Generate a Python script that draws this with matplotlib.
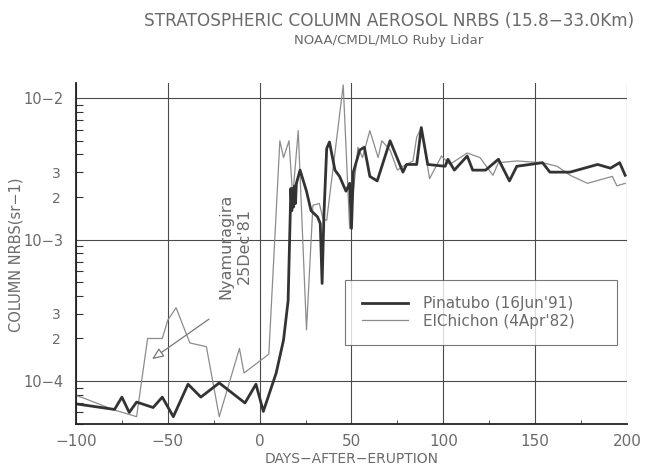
import numpy as np
import matplotlib
matplotlib.use("Agg")
import matplotlib.pyplot as plt
from matplotlib.ticker import FixedLocator, FixedFormatter

# Pinatubo (16 Jun 1991), column NRBS in sr-1
pin_days = [-100, -79, -75, -71, -67, -64, -58, -53, -47, -39, -32, -22, -8, -2, 2,
            9, 13, 15.5, 17, 17.5, 18, 18.5, 19, 19.5, 20, 22, 25.5, 28, 31.5, 33,
            34, 35, 36.5, 38, 41, 43.5, 47, 49, 50, 51, 54.5, 57, 60, 64, 71, 78,
            80, 85.5, 88, 91.5, 101, 102.5, 106, 113, 116, 123, 130, 136, 140,
            154, 158, 169, 184, 191, 196, 199]
pin_vals = [6.9e-5, 6.3e-5, 7.7e-5, 6.0e-5, 7.1e-5, 6.9e-5, 6.5e-5, 7.7e-5, 5.6e-5,
            9.5e-5, 7.7e-5, 9.7e-5, 7.0e-5, 9.5e-5, 6.1e-5,
            1.14e-4, 1.95e-4, 3.7e-4, 2.3e-3, 1.6e-3, 2.3e-3, 1.7e-3, 2.4e-3, 1.8e-3,
            2.5e-3, 3.1e-3, 2.2e-3, 1.6e-3, 1.45e-3, 1.3e-3,
            4.9e-4, 1.5e-3, 4.4e-3, 4.9e-3, 3.1e-3, 2.8e-3, 2.2e-3, 2.5e-3, 1.2e-3,
            3.0e-3, 4.3e-3, 4.5e-3, 2.8e-3, 2.6e-3, 5.0e-3, 3.0e-3,
            3.4e-3, 3.4e-3, 6.2e-3, 3.4e-3, 3.3e-3, 3.7e-3, 3.1e-3, 3.9e-3, 3.1e-3,
            3.1e-3, 3.7e-3, 2.6e-3, 3.3e-3,
            3.5e-3, 3.0e-3, 3.0e-3, 3.4e-3, 3.2e-3, 3.5e-3, 2.85e-3]

# El Chichon (4 Apr 1982)
elc_days = [-100, -96, -80, -67, -61, -53, -50, -45.5, -38, -29, -22, -11, -8.5, 5,
            11, 13, 16, 18, 21, 25.5, 29, 32.5, 34.5, 36.5, 45.5, 49, 53.5, 56, 60,
            64.5, 66.5, 71, 75, 78, 83.5, 85.5, 88, 92.5, 99, 103.5, 113, 120, 127,
            130, 140, 154, 162, 169, 178.5, 192, 194.5, 199]
elc_vals = [7.9e-5, 7.6e-5, 6.3e-5, 5.6e-5, 2.0e-4, 2.0e-4, 2.7e-4, 3.3e-4, 1.86e-4,
            1.75e-4, 5.6e-5, 1.7e-4, 1.14e-4, 1.55e-4,
            5.0e-3, 3.8e-3, 5.0e-3, 2.0e-3, 5.9e-3, 2.3e-4, 1.75e-3, 1.8e-3, 1.4e-3,
            1.37e-3, 1.24e-2, 1.2e-3, 4.5e-3, 3.8e-3, 5.9e-3,
            3.8e-3, 5.0e-3, 4.3e-3, 3.1e-3, 3.3e-3, 3.6e-3, 5.3e-3, 6.2e-3, 2.7e-3,
            3.9e-3, 3.4e-3, 4.1e-3, 3.8e-3, 2.85e-3,
            3.5e-3, 3.6e-3, 3.5e-3, 3.3e-3, 2.85e-3, 2.5e-3, 2.8e-3, 2.4e-3, 2.5e-3]

x_ticks = [-100, -50, 0, 50, 100, 150, 200]
x_labels = ["\u2212100", "\u221250", "0", "50", "100", "150", "200"]
y_major = [1e-4, 1e-3, 1e-2]
y_major_labels = ["10\u22124", "10\u22123", "10\u22122"]

txt = "#6a6a6a"
dark = "#333333"

fig = plt.figure(figsize=(6.46, 4.68), dpi=100)
ax = fig.add_axes([0.1176, 0.094, 0.853, 0.7286])

ax.plot(elc_days, elc_vals, color="#8c8c8c", lw=0.9, label="ElChichon (4Apr'82)")
ax.plot(pin_days, pin_vals, color=dark, lw=2.0, label="Pinatubo (16Jun'91)")

ax.set_yscale("log")
ax.set_xlim(-100, 200)
ax.set_ylim(4.97e-5, 1.28e-2)

ax.xaxis.set_major_locator(FixedLocator(x_ticks))
ax.xaxis.set_major_formatter(FixedFormatter(x_labels))
ax.xaxis.set_minor_locator(FixedLocator([-75, -25, 25, 75, 125, 175]))

# minor ticks 2..9 per decade, only 2 and 3 labelled between 1e-4 and 1e-2
minors = []
minor_labels = []
for e in (-5, -4, -3):
    for m in range(2, 10):
        minors.append(m * 10.0 ** e)
        minor_labels.append(str(m) if (m in (2, 3) and e > -5) else "")
ax.yaxis.set_major_locator(FixedLocator(y_major))
ax.yaxis.set_major_formatter(FixedFormatter(y_major_labels))
ax.yaxis.set_minor_locator(FixedLocator(minors))
ax.yaxis.set_minor_formatter(FixedFormatter(minor_labels))

ax.tick_params(axis="x", which="major", direction="in", length=0, pad=7,
               labelsize=11, labelcolor=txt)
ax.tick_params(axis="x", which="minor", direction="in", length=3, color=dark)
ax.tick_params(axis="y", which="major", direction="in", length=0, pad=9,
               labelsize=10.5, labelcolor=txt)
ax.tick_params(axis="y", which="minor", direction="in", length=5, width=0.8,
               color=dark, pad=11, labelsize=10, labelcolor=txt)

ax.grid(True, which="major", color="#4a4a4a", lw=0.8)
for s in ("top", "right"):
    ax.spines[s].set_visible(False)
for s in ("left", "bottom"):
    ax.spines[s].set_color("#222222")
    ax.spines[s].set_linewidth(1.3)

fig.text(352 / 646, 1 - 459 / 468, "DAYS\u2212AFTER\u2212ERUPTION", ha="center",
         va="center", fontsize=10, color=txt)
fig.text(16 / 646, 1 - 255 / 468, "COLUMN NRBS(sr\u22121)", ha="center",
         va="center", rotation=90, fontsize=10.5, color=txt)

fig.text(0.602, 0.955, "STRATOSPHERIC COLUMN AEROSOL NRBS (15.8\u221233.0Km)",
         ha="center", va="center", fontsize=12.2, color=txt)
fig.text(0.601, 0.913, "NOAA/CMDL/MLO Ruby Lidar", ha="center", va="center",
         fontsize=9.5, color=txt)

ax.text(-13.4, 9.0e-4, "Nyamuragira\n25Dec'81", rotation=90, ha="center",
        va="center", multialignment="center", fontsize=11.5, color=txt,
        linespacing=1.3)
ax.annotate("", xy=(-58.6, 1.43e-4), xytext=(-27.6, 2.74e-4),
            arrowprops=dict(arrowstyle="-|>,head_length=0.7,head_width=0.3",
                            fc="white", ec="#777777", lw=0.9, shrinkA=0, shrinkB=0))

handles, labels = ax.get_legend_handles_labels()
leg = ax.legend(handles[::-1], labels[::-1], loc="center left",
                bbox_to_anchor=(0.488, 0.226, 0.494, 0.202), mode="expand",
                fontsize=11, frameon=True, fancybox=False, borderpad=1.1,
                handlelength=3.0, handletextpad=1.0, labelspacing=0.15,
                borderaxespad=0)
leg.get_frame().set_edgecolor("#555555")
leg.get_frame().set_linewidth(0.8)
for t in leg.get_texts():
    t.set_color(txt)

fig.savefig("out.png", dpi=100)
